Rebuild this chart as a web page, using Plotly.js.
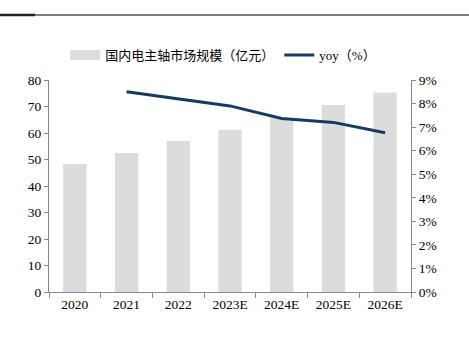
<!DOCTYPE html>
<html><head><meta charset="utf-8">
<script src="https://cdn.plot.ly/plotly-3.0.1.min.js"></script>
<style>body{margin:0;padding:0;background:#fff}#c{width:469px;height:340px}</style>
</head><body><div id="c"></div>
<script>
const categories = ['2020','2021','2022','2023E','2024E','2025E','2026E'];
const marketSize = [48.3, 52.5, 57.0, 61.2, 65.7, 70.6, 75.3];
const yoyYears = ['2021','2022','2023E','2024E','2025E','2026E'];
const yoyPct = [8.5, 8.2, 7.9, 7.37, 7.2, 6.76];
const barName = '国内电主轴市场规模（亿元）';
const lineName = 'yoy（%）';

const font = {family: '"Liberation Serif", "Noto Sans CJK SC", serif', size: 13.5, color: '#000'};
const traces = [
  {type:'bar', x:categories, y:marketSize, name:barName, marker:{color:'#dcdcdc'}, width:0.45, yaxis:'y', showlegend:false},
  {type:'scatter', mode:'lines', x:[null], y:[null], name:barName, line:{color:'#dcdcdc', width:10}, yaxis:'y', hoverinfo:'skip'},
  {type:'scatter', mode:'lines', x:yoyYears, y:yoyPct, name:lineName, line:{color:'#173a63', width:3}, yaxis:'y2'}
];
const layout = {
  width:469, height:340,
  margin:{l:49, r:58, t:80, b:48},
  paper_bgcolor:'#fff', plot_bgcolor:'#fff',
  font:font,
  showlegend:true,
  legend:{orientation:'h', x:0.045, y:(292-55)/212, xanchor:'left', yanchor:'middle', font:Object.assign({}, font, {size:13}), itemwidth:30, tracegroupgap:0},
  bargap:0.55,
  xaxis:{type:'category', categoryarray:categories, categoryorder:'array', showline:true, linecolor:'#888', linewidth:1, ticks:'outside', tickcolor:'#888', ticklen:5, tickson:'boundaries', showgrid:false, tickfont:font},
  yaxis:{range:[0,80], dtick:10, showline:true, linecolor:'#888', linewidth:1, ticks:'outside', tickcolor:'#888', ticklen:4, showgrid:false, zeroline:false, tickfont:font},
  yaxis2:{range:[0,9], dtick:1, overlaying:'y', side:'right', showline:true, linecolor:'#888', linewidth:1, ticks:'outside', tickcolor:'#888', ticklen:4, showgrid:false, zeroline:false, ticksuffix:'%', tickfont:font},
  shapes:[
    {type:'line', xref:'paper', yref:'paper', x0:-49/362, x1:(469-49)/362, y0:(292-15)/212, y1:(292-15)/212, line:{color:'#555', width:1.5}},
    {type:'line', xref:'paper', yref:'paper', x0:-49/362, x1:(35-49)/362, y0:(292-15)/212, y1:(292-15)/212, line:{color:'#222', width:2.5}}
  ]
};
Plotly.newPlot('c', traces, layout, {displayModeBar:false, staticPlot:true});
</script></body></html>
